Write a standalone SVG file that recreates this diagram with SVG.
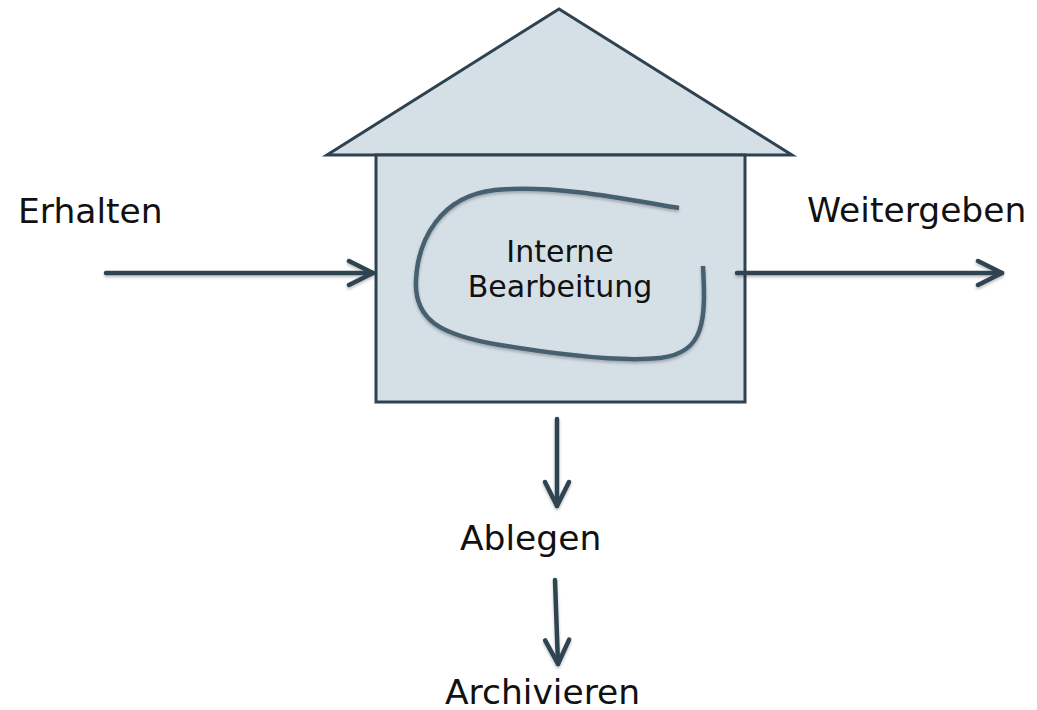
<svg xmlns="http://www.w3.org/2000/svg" width="1037" height="710" viewBox="0 0 1037 710">
  <style>
    .lbl { font-family: "DejaVu Sans", Verdana, sans-serif; font-size: 34.5px; fill: #111; }
    .inner { font-family: "DejaVu Sans", Verdana, sans-serif; font-size: 30px; fill: #111; text-anchor: middle; }
    .house { fill: #d5dfe6; stroke: #2f4250; stroke-width: 3; stroke-linejoin: miter; }
    .conn { fill: none; stroke: #2f4451; stroke-width: 4.5; stroke-linecap: round; }
  </style>
  <defs>
    <filter id="sh" x="-10%" y="-50%" width="120%" height="200%">
      <feDropShadow dx="0" dy="2" stdDeviation="1.5" flood-color="#000" flood-opacity="0.25"/>
    </filter>
    <marker id="ah" viewBox="0 0 30 30" refX="27" refY="15" markerWidth="30" markerHeight="30" markerUnits="userSpaceOnUse" orient="auto">
      <path d="M3,3 L27,15 L3,27" fill="none" stroke="#2f4451" stroke-width="4.5" stroke-linecap="round" stroke-linejoin="round"/>
    </marker>
  </defs>
  <rect width="1037" height="710" fill="#fff"/>

  <g id="house">
    <polygon class="house" points="559,9 792,155 327,155"/>
    <rect class="house" x="376" y="155" width="369" height="247"/>
    <path d="M679,208 C640,202 560,184 495,190 C440,196 418,240 416,280 C414,320 440,335 500,345 C560,355 620,362 660,358 C705,353 706,320 703,266" fill="none" stroke="#46606f" stroke-width="4.5" stroke-linecap="butt" filter="url(#sh)"/>
    <text class="inner" x="560" y="262">Interne</text>
    <text class="inner" x="560" y="297">Bearbeitung</text>
  </g>

  <g id="connectors" filter="url(#sh)">
    <line class="conn" x1="106" y1="273" x2="373" y2="273" marker-end="url(#ah)"/>
    <line class="conn" x1="737" y1="273" x2="1002" y2="273" marker-end="url(#ah)"/>
    <line class="conn" x1="557" y1="419" x2="557" y2="506" marker-end="url(#ah)"/>
    <line class="conn" x1="555" y1="580" x2="558" y2="664" marker-end="url(#ah)"/>
  </g>

  <g id="erhalten"><text class="lbl" x="18" y="223">Erhalten</text></g>
  <g id="weitergeben"><text class="lbl" x="807" y="222">Weitergeben</text></g>
  <g id="ablegen"><text class="lbl" x="460" y="550">Ablegen</text></g>
  <g id="archivieren"><text class="lbl" x="445" y="704">Archivieren</text></g>
</svg>
